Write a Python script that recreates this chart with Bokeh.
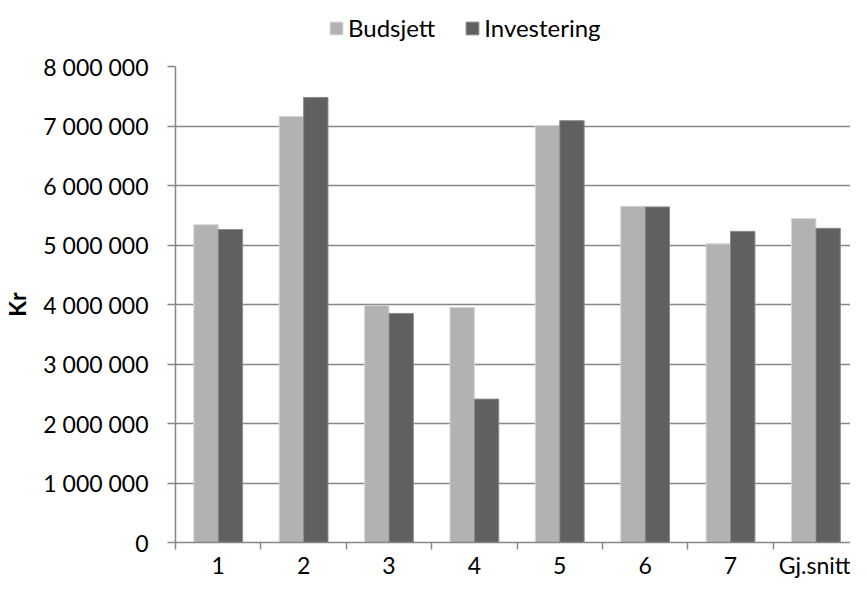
import numpy as np
from bokeh.plotting import figure
from bokeh.layouts import column
from bokeh.models import Range1d, FixedTicker, Legend, LegendItem
from bokeh.embed import file_html
from bokeh.resources import INLINE

# ---- data ----
categories = ["1", "2", "3", "4", "5", "6", "7", "Gj.snitt"]
budsjett = [5340000, 7160000, 3985000, 3950000, 7010000, 5650000, 5020000, 5445000]
investering = [5260000, 7480000, 3850000, 2410000, 7090000, 5640000, 5230000, 5280000]
series_names = ["Budsjett", "Investering"]
y_ticks = [0, 1000000, 2000000, 3000000, 4000000, 5000000, 6000000, 7000000, 8000000]
y_tick_labels = ["0", "1 000 000", "2 000 000", "3 000 000", "4 000 000",
                 "5 000 000", "6 000 000", "7 000 000", "8 000 000"]
y_title = "Kr"

# ---- style ----
FONT = "Lato"
FS = "23px"
GRID = "#868686"
C_BUD = "#B2B2B2"
C_INV = "#606060"
L_BUD = "#D6D6D6"
L_INV = "#8C8C8C"

W = 850
LEG_H = 44
H = 581 - LEG_H
TOP = 22
BOTTOM = 38
centers = np.arange(len(categories)) + 0.5
bar_w = 1.0 / 3.5  # Excel gap width 150%

# ---- legend strip (separate figure above the chart) ----
lf = figure(width=W, height=LEG_H, output_backend="svg", toolbar_location=None,
            x_range=Range1d(0, 1), y_range=Range1d(0, 1),
            x_axis_type=None, y_axis_type=None,
            min_border_left=0, min_border_right=0, min_border_top=0, min_border_bottom=0)
lf.outline_line_color = None
lf.xgrid.visible = False
lf.ygrid.visible = False
# swatch renderers kept outside the strip's visible range; only their legend glyphs show
lr1 = lf.vbar(x=[5], top=[5], bottom=[4], width=0.1, fill_color=C_BUD, line_color=L_BUD)
lr2 = lf.vbar(x=[5], top=[5], bottom=[4], width=0.1, fill_color=C_INV, line_color=L_INV)
legend = Legend(items=[LegendItem(label=series_names[0], renderers=[lr1]),
                       LegendItem(label=series_names[1], renderers=[lr2])],
                orientation="horizontal", location=(153, 2),
                glyph_width=16, glyph_height=16, label_standoff=4, spacing=29,
                padding=0, margin=0, border_line_color=None,
                background_fill_alpha=0,
                label_text_font=FONT, label_text_font_size="24px",
                label_text_color="black")
lf.add_layout(legend)

# ---- main chart ----
p = figure(width=W, height=H, output_backend="svg", toolbar_location=None,
           x_range=Range1d(0, 7.905), y_range=Range1d(0, 8000000),
           min_border_left=167, min_border_right=0, min_border_top=TOP,
           min_border_bottom=BOTTOM)
p.outline_line_color = None
p.background_fill_color = "white"
p.border_fill_color = "white"

p.vbar(x=centers - bar_w / 2, top=budsjett, width=bar_w,
       fill_color=C_BUD, line_color=L_BUD, line_width=1)
p.vbar(x=centers + bar_w / 2, top=investering, width=bar_w,
       fill_color=C_INV, line_color=L_INV, line_width=1)

# x axis: labels at category centers, tick marks at category boundaries
xa = p.xaxis[0]
xa.ticker = FixedTicker(ticks=list(centers), minor_ticks=list(range(0, len(categories) + 1)))
xa.major_label_overrides = {float(c): lab for c, lab in zip(centers, categories)}
xa.major_tick_in = 0
xa.major_tick_out = 0
xa.minor_tick_in = 0
xa.minor_tick_out = 7
xa.minor_tick_line_color = GRID
xa.minor_tick_line_width = 1.5
xa.axis_line_color = GRID
xa.axis_line_width = 1.5
xa.major_label_text_font = FONT
xa.major_label_text_font_size = FS
xa.major_label_text_color = "black"
xa.major_label_standoff = 1

# y axis
ya = p.yaxis[0]
ya.ticker = FixedTicker(ticks=y_ticks)
ya.major_label_overrides = {t: lab for t, lab in zip(y_ticks, y_tick_labels)}
ya.major_tick_in = 0
ya.major_tick_out = 8
ya.major_tick_line_color = GRID
ya.major_tick_line_width = 1.5
ya.minor_tick_out = 0
ya.minor_tick_in = 0
ya.axis_line_color = GRID
ya.axis_line_width = 1.5
ya.major_label_text_font = FONT
ya.major_label_text_font_size = FS
ya.major_label_text_color = "black"
ya.major_label_standoff = 19
ya.axis_label = y_title
ya.axis_label_text_font = FONT
ya.axis_label_text_font_size = FS
ya.axis_label_text_font_style = "bold"
ya.axis_label_text_color = "black"
ya.axis_label_standoff = 9

p.xgrid.visible = False
p.ygrid.ticker = FixedTicker(ticks=y_ticks)
p.ygrid.grid_line_color = GRID
p.ygrid.grid_line_width = 1.5

layout = column(lf, p, spacing=0)
open("out.html", "w").write(file_html(layout, INLINE))
